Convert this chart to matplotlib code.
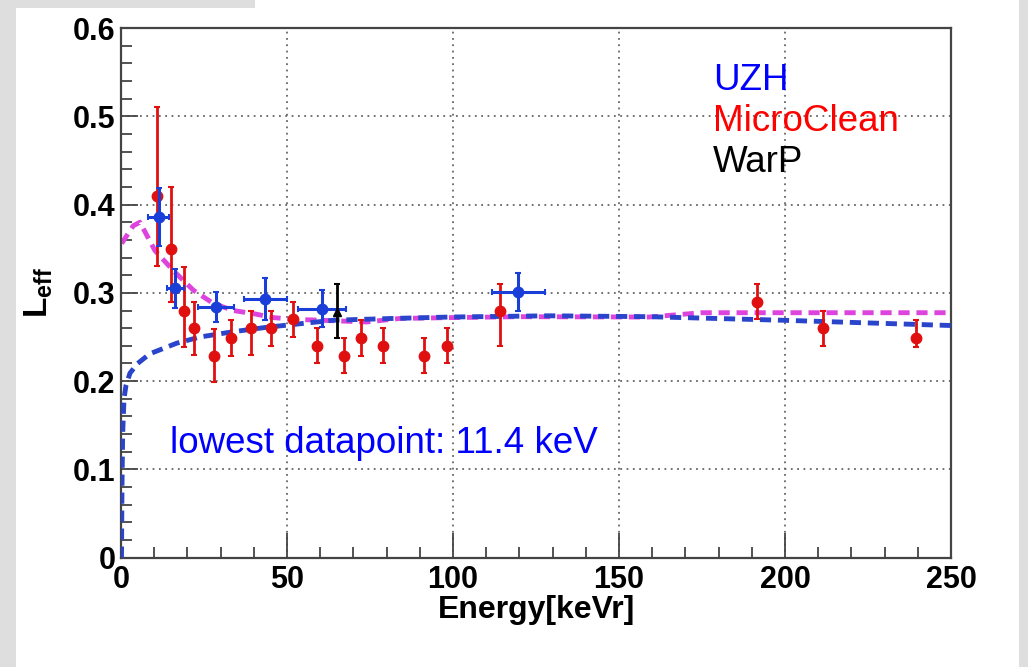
import matplotlib
matplotlib.use("Agg")
import matplotlib.pyplot as plt
from matplotlib.patches import Rectangle
from matplotlib.ticker import MultipleLocator

# ----------------------------
# Data
# ----------------------------
uzh_x = [11.4, 16.4, 28.6, 43.4, 60.6, 119.7]
uzh_y = [0.386, 0.305, 0.284, 0.293, 0.282, 0.301]
uzh_xerr = [3.2, 2.6, 5.4, 6.5, 7.3, 8.0]
uzh_yerr = [0.033, 0.022, 0.017, 0.024, 0.021, 0.021]

mc_x = [10.9, 15.0, 19.1, 22.1, 28.1, 33.1, 39.1, 45.1, 51.9, 59.1,
        67.2, 72.2, 79.0, 91.3, 98.1, 114.2, 191.5, 211.3, 239.5]
mc_y = [0.41, 0.35, 0.279, 0.26, 0.229, 0.249, 0.26, 0.26, 0.27, 0.24,
        0.229, 0.249, 0.24, 0.229, 0.24, 0.28, 0.29, 0.26, 0.249]
mc_err_lo = [0.08, 0.06, 0.04, 0.03, 0.03, 0.02, 0.03, 0.02, 0.02, 0.02,
             0.02, 0.02, 0.02, 0.02, 0.02, 0.04, 0.02, 0.02, 0.01]
mc_err_hi = [0.10, 0.07, 0.05, 0.03, 0.03, 0.02, 0.02, 0.02, 0.02, 0.02,
             0.02, 0.02, 0.02, 0.02, 0.02, 0.03, 0.02, 0.02, 0.02]

warp_x = [65.0]
warp_y = [0.278]
warp_err_lo = [0.029]
warp_err_hi = [0.032]

# fit curves (points picked along the dashed lines)
fit_x = [0.15, 0.3, 0.5, 0.9, 1.5, 2.7, 5.0, 8.7, 16.8, 23.8, 33.8, 43.9,
         53.9, 64.0, 82.0, 99.0, 129.0, 159.0, 199.0, 250.0]
fit_y = [0.0, 0.08, 0.14, 0.18, 0.195, 0.209, 0.22, 0.231, 0.243, 0.25,
         0.256, 0.261, 0.265, 0.269, 0.271, 0.2726, 0.274, 0.273, 0.269, 0.263]

mag_x = [0.2, 3.7, 5.7, 10.2, 15.8, 21.8, 27.8, 33.8, 39.8, 45.9, 51.9,
         59.9, 74.0, 84.0, 100.0, 120.0, 159.0, 175.0, 250.0]
mag_y = [0.356, 0.376, 0.38, 0.348, 0.325, 0.303, 0.288, 0.28, 0.2765, 0.272,
         0.27, 0.269, 0.267, 0.271, 0.272, 0.273, 0.2726, 0.2775, 0.2775]

x_ticks = [0, 50, 100, 150, 200, 250]
x_labels = ["0", "50", "100", "150", "200", "250"]
y_ticks = [0, 0.1, 0.2, 0.3, 0.4, 0.5, 0.6]
y_labels = ["0", "0.1", "0.2", "0.3", "0.4", "0.5", "0.6"]

# ----------------------------
# Figure / background
# ----------------------------
plt.rcParams["font.family"] = ["Liberation Sans", "DejaVu Sans"]
plt.rcParams["mathtext.fontset"] = "custom"
plt.rcParams["mathtext.bf"] = "Liberation Sans:bold"
plt.rcParams["mathtext.rm"] = "Liberation Sans"

W, H = 1028, 667
fig = plt.figure(figsize=(W / 100, H / 100), dpi=100)
fig.patch.set_facecolor("#dedede")
fig.patches.append(Rectangle((16 / W, 0), (1019 - 16) / W, 1,
                             transform=fig.transFigure, facecolor="white",
                             edgecolor="none", zorder=-2))
fig.patches.append(Rectangle((16 / W, 1 - 8 / H), (255 - 16) / W, 8 / H,
                             transform=fig.transFigure, facecolor="#dedede",
                             edgecolor="none", zorder=-1))

ax = fig.add_axes([121 / W, 1 - 557.7 / H, 830 / W, 529.7 / H])
ax.set_facecolor("white")

# ----------------------------
# Curves
# ----------------------------
ax.plot(mag_x, mag_y, color="#dd44dd", lw=3.5, dashes=(2.3, 1.4), zorder=2)
ax.plot(fit_x, fit_y, color="#2a44cc", lw=3.5, dashes=(2.3, 1.4), zorder=3)

# ----------------------------
# Data points
# ----------------------------
ax.errorbar(mc_x, mc_y, yerr=[mc_err_lo, mc_err_hi], fmt="o", color="#e01010",
            ms=7.5, elinewidth=2, capsize=2.5, capthick=1.5, zorder=4)
ax.errorbar(uzh_x, uzh_y, xerr=uzh_xerr, yerr=uzh_yerr, fmt="o", color="#1a3fd8",
            ms=7.5, elinewidth=2.2, capsize=2.5, capthick=1.5, zorder=5)
ax.errorbar(warp_x, warp_y, yerr=[warp_err_lo, warp_err_hi], fmt="^", color="black",
            ms=6, elinewidth=2, capsize=2.5, capthick=1.5, zorder=5)

# ----------------------------
# Axes styling
# ----------------------------
ax.set_xlim(0, 250)
ax.set_ylim(0, 0.6)
ax.set_xticks(x_ticks)
ax.set_xticklabels(x_labels)
ax.set_yticks(y_ticks)
ax.set_yticklabels(y_labels)
ax.xaxis.set_minor_locator(MultipleLocator(10))
ax.yaxis.set_minor_locator(MultipleLocator(0.02))
ax.tick_params(axis="both", which="both", direction="in", color="#444444",
               top=False, right=False)
ax.tick_params(axis="x", which="major", length=18, width=1.3, pad=5,
               labelsize=22)
ax.tick_params(axis="x", which="minor", length=8, width=1.3)
ax.tick_params(axis="y", which="major", length=12, width=1.3, pad=4,
               labelsize=22)
ax.tick_params(axis="y", which="minor", length=8, width=1.3)
for lab in ax.get_xticklabels() + ax.get_yticklabels():
    lab.set_fontweight("bold")

for sp in ax.spines.values():
    sp.set_color("#444444")
    sp.set_linewidth(1.6)

ax.grid(True, which="major", color="#666666", linestyle=(0, (1, 2.5)), lw=1.3)
ax.set_axisbelow(True)

ax.set_xlabel("Energy[keVr]", fontsize=23, fontweight="bold")
ax.xaxis.set_label_coords(0.5, -0.071)
ax.set_ylabel(r"$\mathbf{L}_{\mathbf{eff}}$", fontsize=24)
ax.yaxis.set_label_coords(-0.08, 0.5)

# ----------------------------
# Annotations
# ----------------------------
ax.text(178.3, 0.530, "UZH", color="#0000ff", fontsize=26.5, va="baseline")
ax.text(178.3, 0.483, "MicroClean", color="#ff0000", fontsize=26.5, va="baseline")
ax.text(178.3, 0.4367, "WarP", color="black", fontsize=26.5, va="baseline")
ax.text(14.8, 0.119, "lowest datapoint: 11.4 keV", color="#0000ff",
        fontsize=26.5, va="baseline")

fig.savefig("out.png", dpi=100, facecolor=fig.get_facecolor())
